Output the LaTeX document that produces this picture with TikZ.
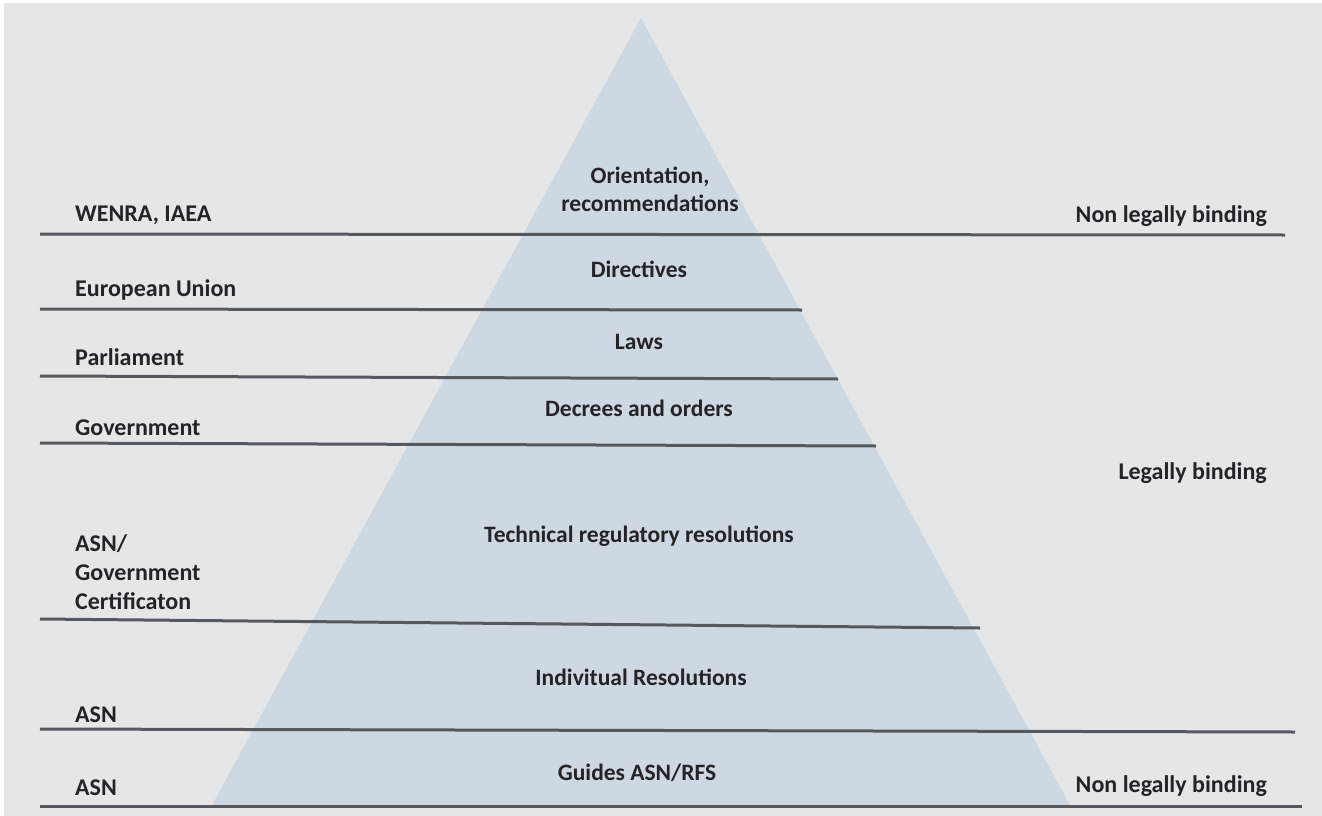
\documentclass[tikz,border=0pt]{standalone}
\usepackage{xcolor}
\usepackage{fontspec}
\setmainfont{Carlito}
\usetikzlibrary{positioning}
\definecolor{pagegray}{RGB}{230,230,230}
\definecolor{pyramidblue}{RGB}{205,216,226}
\definecolor{rulegray}{RGB}{85,88,92}
\definecolor{labeltext}{RGB}{35,35,40}

\tikzset{
    lefttag/.style={anchor=west, text=labeltext, font=\bfseries\fontsize{24}{29}\selectfont, align=left, inner sep=0pt},
    righttag/.style={anchor=east, text=labeltext, font=\bfseries\fontsize{24}{29}\selectfont, inner sep=0pt},
    leveltag/.style={text=labeltext, font=\bfseries\fontsize{23.5}{28}\selectfont, align=center, inner sep=0pt},
    tierline/.style={draw=rulegray, line width=3pt}
}

\begin{document}
\begin{tikzpicture}[x=1pt, y=-1pt]
    % page
    \fill[white] (0,0) rectangle (1322,816);
    \fill[pagegray] (4,3) rectangle (1322,816);
    \useasboundingbox (0,0) rectangle (1322,816);

    % pyramid
    \fill[pyramidblue] (641,18) -- (1071,807) -- (211,807) -- cycle;

    % tier lines
    \coordinate (l1a) at (40,234);  \coordinate (l1b) at (1285,235);
    \coordinate (l2a) at (40,309);  \coordinate (l2b) at (802,310);
    \coordinate (l3a) at (40,376);  \coordinate (l3b) at (838,379);
    \coordinate (l4a) at (40,443);  \coordinate (l4b) at (876,446);
    \coordinate (l5a) at (40,619);  \coordinate (l5b) at (980,628);
    \coordinate (l6a) at (40,729);  \coordinate (l6b) at (1295,732);
    \coordinate (l7a) at (40,806);  \coordinate (l7b) at (1302,806);
    \foreach \k in {1,...,7}
        \draw[tierline] (l\k a) -- (l\k b);

    % left column
    \node[lefttag] (wenra) at (75,215) {WENRA, IAEA};
    \node[lefttag] (eu) at (75,290) {European Union};
    \node[lefttag] (parl) at (75,357) {Parliament};
    \node[lefttag] (gov) at (75,428) {Government};
    \node[lefttag] (asncert) at (75,572) {ASN/\\Government\\Certificaton};
    \node[lefttag] (asnind) at (75,715) {ASN};
    \node[lefttag] (asnguide) at (75,788) {ASN};

    % pyramid levels
    \node[leveltag] (orient) at (650,189) {Orientation,\\recommendations};
    \node[leveltag] (direct) at (639,269) {Directives};
    \node[leveltag] (laws) at (639,342) {Laws};
    \node[leveltag] (decree) at (639,408) {Decrees and orders};
    \node[leveltag] (techres) at (639,536) {Technical regulatory resolutions};
    \node[leveltag] (indres) at (641,677) {Indivitual Resolutions};
    \node[leveltag] (guides) at (637,773) {Guides ASN/RFS};

    % right column
    \node[righttag] (nonbind) at (1267,216) {Non legally binding};
    \node[righttag] (bind) at (1267,473) {Legally binding};
    \node[righttag] (nonbindb) at (1267,786) {Non legally binding};
\end{tikzpicture}
\end{document}
